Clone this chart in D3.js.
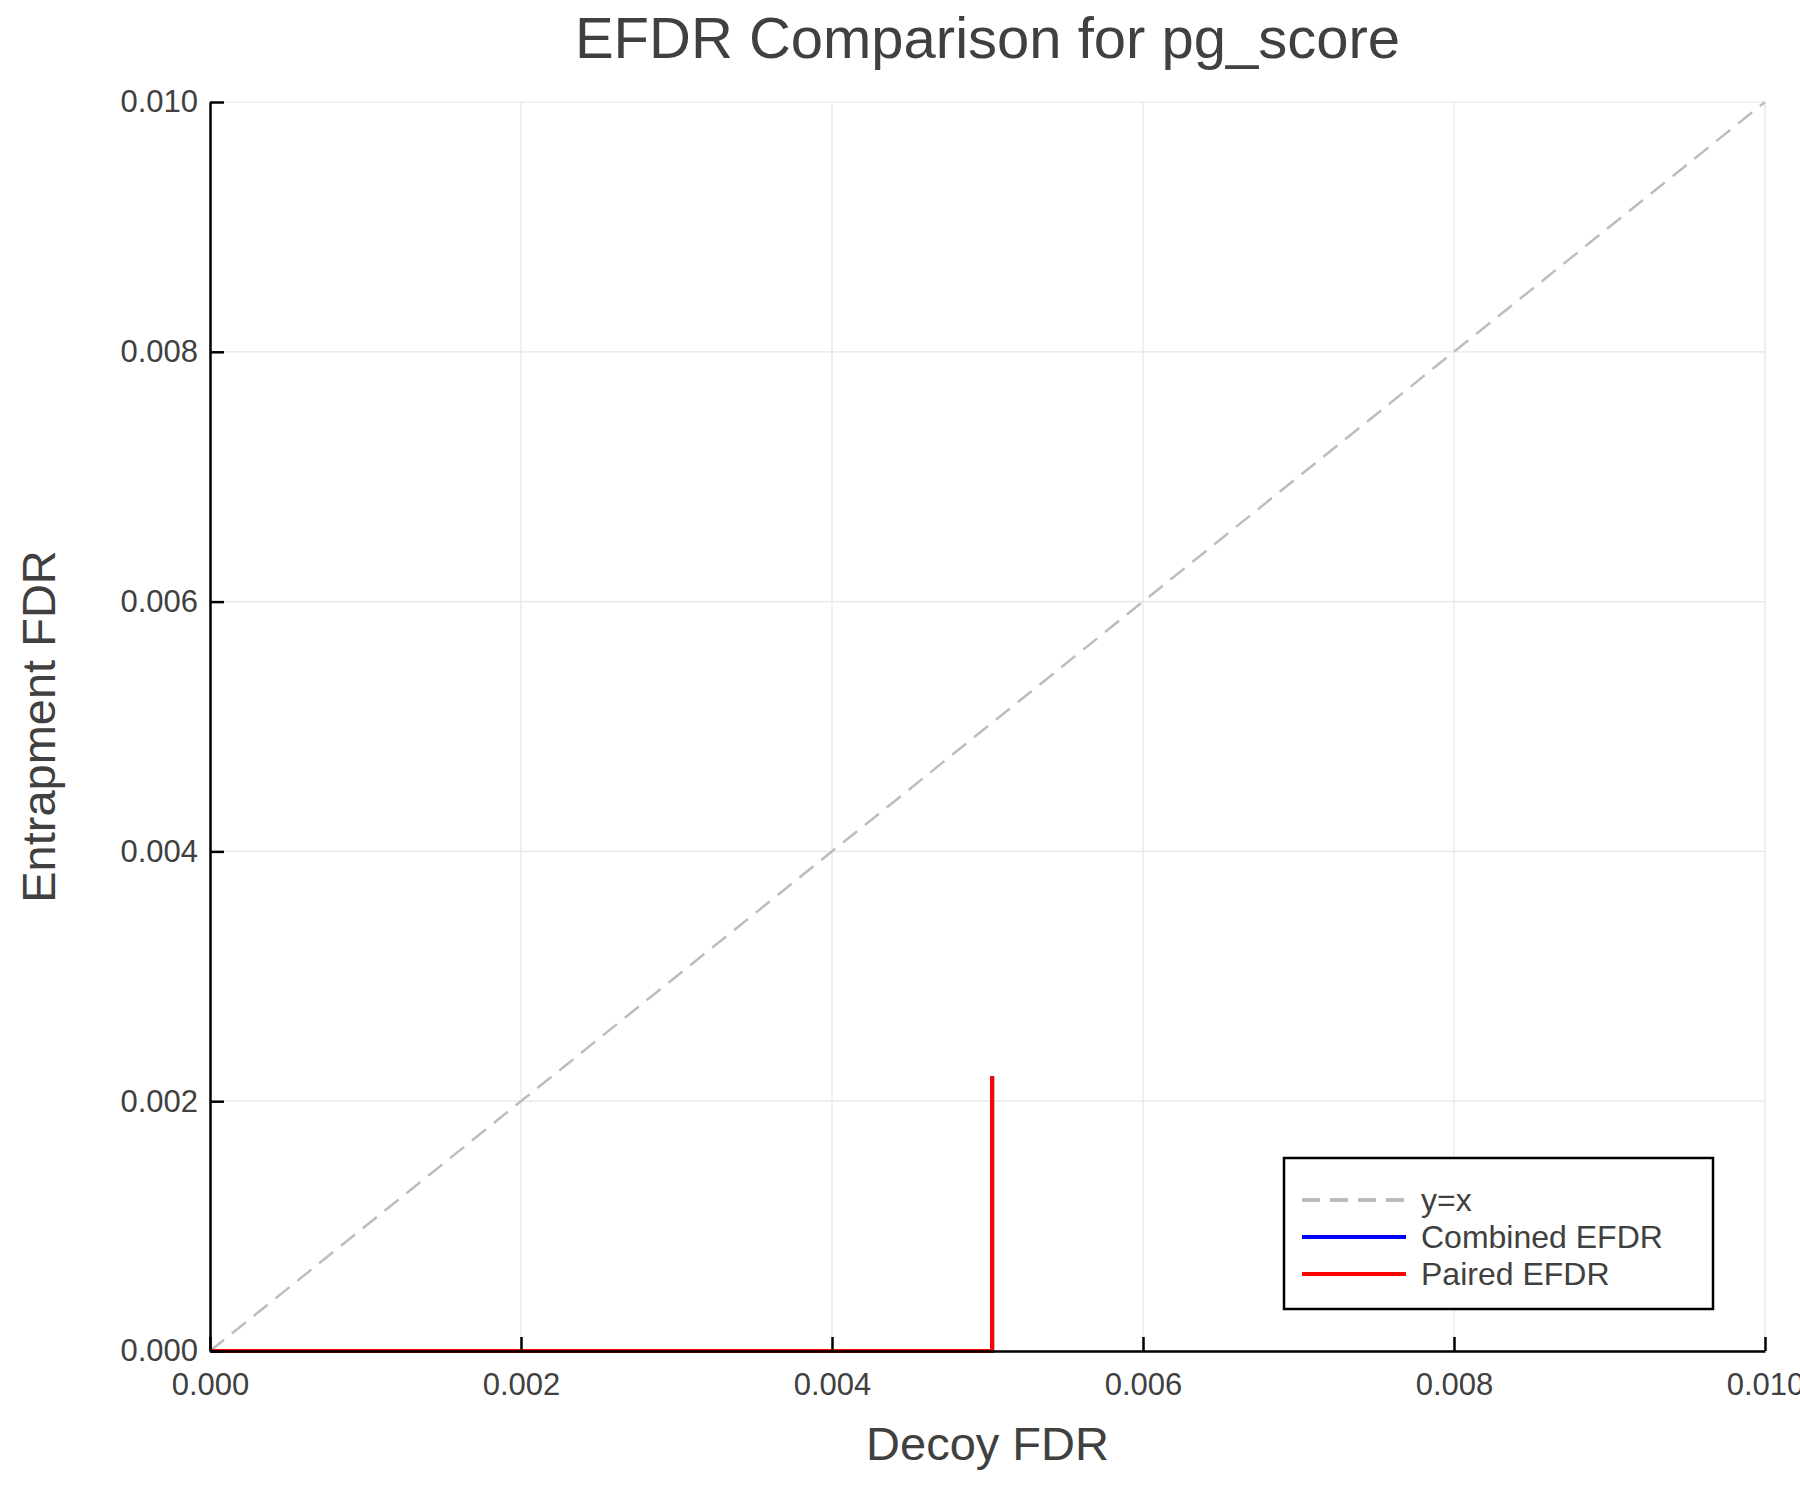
<!DOCTYPE html>
<html><head><meta charset="utf-8">
<script src="https://cdn.jsdelivr.net/npm/d3@7"></script>
<style>body{margin:0;background:#fff}text{font-family:"Liberation Sans",Arial,sans-serif;fill:#404040}</style>
</head><body><svg></svg>
<script>
const xTicks = [0, 0.002, 0.004, 0.006, 0.008, 0.010]
const yTicks = [0, 0.002, 0.004, 0.006, 0.008, 0.010]
const diagX = [0, 0.01]
const diagY = [0, 0.01]
const combinedX = [0, 0.00503, 0.00503]
const combinedY = [0, 0, 0.0022]
const pairedX = [0, 0.00503, 0.00503]
const pairedY = [0, 0, 0.0022]

const W = 1800, H = 1500
const m = {left: 210, right: 35, top: 102, bottom: 149}
const svg = d3.select('svg').attr('width', W).attr('height', H)

const x = d3.scaleLinear().domain([0, 0.01]).range([m.left, W - m.right])
const y = d3.scaleLinear().domain([0, 0.01]).range([H - m.bottom, m.top])

// grid
svg.append('g').selectAll('line').data(xTicks).join('line')
  .attr('x1', d => x(d)).attr('x2', d => x(d)).attr('y1', y(0)).attr('y2', y(0.01))
  .attr('stroke', '#e6e6e6').attr('stroke-width', 1.2)
svg.append('g').selectAll('line').data(yTicks).join('line')
  .attr('y1', d => y(d)).attr('y2', d => y(d)).attr('x1', x(0)).attr('x2', x(0.01))
  .attr('stroke', '#e6e6e6').attr('stroke-width', 1.2)

const line = (xs, ys) => d3.line().x((d, i) => x(xs[i])).y((d, i) => y(ys[i]))(xs)

svg.append('path').attr('d', line(diagX, diagY)).attr('fill', 'none')
  .attr('stroke', '#bdbdbd').attr('stroke-width', 2.5).attr('stroke-dasharray', '18,10')
svg.append('path').attr('d', line(combinedX, combinedY)).attr('fill', 'none')
  .attr('stroke', '#0000ff').attr('stroke-width', 4)
svg.append('path').attr('d', line(pairedX, pairedY)).attr('fill', 'none')
  .attr('stroke', '#ff0000').attr('stroke-width', 4)

// axes
const xAxis = d3.axisBottom(x).tickValues(xTicks).tickFormat(d3.format('.3f')).tickSizeInner(-14).tickSizeOuter(0).tickPadding(22)
const yAxis = d3.axisLeft(y).tickValues(yTicks).tickFormat(d3.format('.3f')).tickSizeInner(-14).tickSizeOuter(0).tickPadding(12)
const gx = svg.append('g').attr('transform', `translate(0,${y(0)})`).call(xAxis)
const gy = svg.append('g').attr('transform', `translate(${x(0)},0)`).call(yAxis)
for (const g of [gx, gy]) {
  g.select('.domain').attr('stroke', '#000').attr('stroke-width', 2.5)
  g.selectAll('.tick line').attr('stroke', '#000').attr('stroke-width', 2.5)
  g.selectAll('.tick text').style('font-size', '31px').attr('fill', '#404040')
}
gx.selectAll('.tick text').attr('dy', '0.71em')

// titles
svg.append('text').attr('x', (x(0) + x(0.01)) / 2).attr('y', 58).attr('text-anchor', 'middle')
  .style('font-size', '58px').text('EFDR Comparison for pg_score')
svg.append('text').attr('x', (x(0) + x(0.01)) / 2).attr('y', 1460).attr('text-anchor', 'middle')
  .style('font-size', '47px').text('Decoy FDR')
svg.append('text').attr('transform', `translate(55,${(y(0) + y(0.01)) / 2}) rotate(-90)`)
  .attr('text-anchor', 'middle').style('font-size', '47px').text('Entrapment FDR')

// legend
const lg = svg.append('g').attr('transform', 'translate(1284,1158)')
lg.append('rect').attr('width', 429).attr('height', 151).attr('fill', '#fff')
  .attr('stroke', '#000').attr('stroke-width', 2.5)
const items = [
  {label: 'y=x', color: '#bdbdbd', dash: '18,10'},
  {label: 'Combined EFDR', color: '#0000ff', dash: null},
  {label: 'Paired EFDR', color: '#ff0000', dash: null}
]
items.forEach((it, i) => {
  const yy = 42 + i * 37
  lg.append('line').attr('x1', 18).attr('x2', 122).attr('y1', yy).attr('y2', yy)
    .attr('stroke', it.color).attr('stroke-width', 4).attr('stroke-dasharray', it.dash)
  lg.append('text').attr('x', 137).attr('y', yy + 11).style('font-size', '32px').text(it.label)
})
</script></body></html>
